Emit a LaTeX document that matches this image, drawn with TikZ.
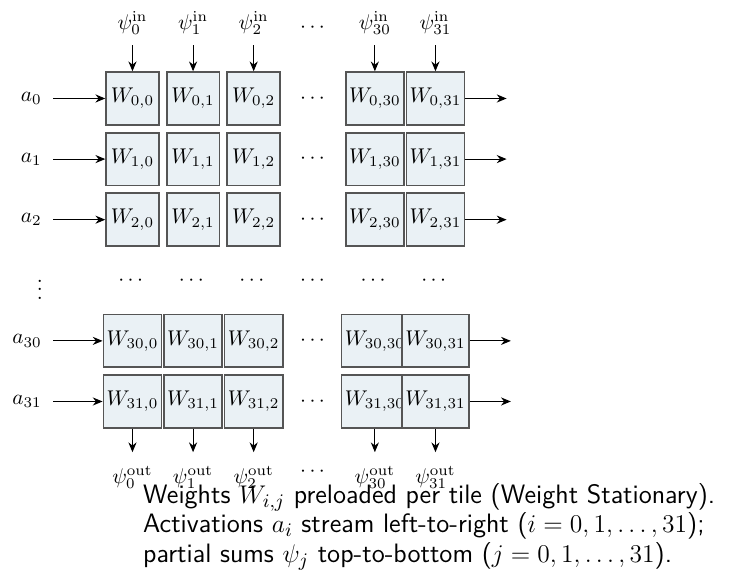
\documentclass[tikz,border=0pt]{standalone}
\usepackage{amsmath}
\usetikzlibrary{arrows.meta,calc}
\definecolor{tilefill}{HTML}{EAF1F5}
\definecolor{tileedge}{HTML}{555555}
\tikzset{
  tile/.style={draw=tileedge, fill=tilefill, line width=0.8pt,
    minimum width=0.87cm, minimum height=0.87cm, inner sep=1.5pt},
  flow/.style={-{Stealth[length=4.6pt,width=3.8pt]}, line width=0.5pt, black},
  lbl/.style={inner sep=3.33pt},
}
\begin{document}
\begin{tikzpicture}
\useasboundingbox (-2.186,1.625) rectangle (9.893,-7.962);
% tiles
\foreach \r/\y/\ri in {0/0/0,1/-1/1,2/-2/2,30/-4/30,31/-5/31}{
  \foreach \c/\x in {0/0,1/1,2/2,30/4,31/5}{
    \node[tile] (W\r-\c) at (\x,\y) {$W_{\ri,\c}$};
  }
  \node (cd\r) at (3,\y) {$\cdots$};
  \node[lbl, anchor=east] (a\r) at (-1.376,\y) {$a_{\ri}$};
  \draw[flow, shorten <=2pt] (a\r) -- (W\r-0);
  \coordinate (o\r) at ($(W\r-31.east)+(0.68,0)$);
  \draw[flow] (W\r-31) -- (o\r);
}
% dots row
\foreach \c/\x in {0/0,1/1,2/2,3/3,30/4,31/5}{
  \node (rd\c) at (\x,-3) {$\cdots$};
}
\node (vd) at (-1.53,-3.05) {$\vdots$};
% top inputs
\foreach \c/\x in {0/0,1/1,2/2,30/4,31/5}{
  \node[lbl] (pin\c) at (\x,1.246) {$\psi_{\c}^{\mathrm{in}}$};
  \draw[flow, shorten <=1.5pt] (pin\c) -- (W0-\c);
  \node[lbl] (pout\c) at (\x,-6.26) {$\psi_{\c}^{\mathrm{out}}$};
  \draw[flow, shorten >=3.3pt] (W31-\c) -- (pout\c);
}
\node (tdots) at (3,1.163) {$\cdots$};
\node (bdots) at (3,-6.163) {$\cdots$};
% caption
\node[anchor=north west, align=left, font=\fontsize{12.5}{13.85}\selectfont\sffamily, inner sep=0pt] (cap) at (0.17,-6.345)
  {Weights $W_{i,j}$ preloaded per tile (Weight Stationary).\\
   Activations $a_i$ stream left-to-right ($i=0,1,\ldots,31$);\\
   partial sums $\psi_j$ top-to-bottom ($j=0,1,\ldots,31$).};
\end{tikzpicture}
\end{document}
